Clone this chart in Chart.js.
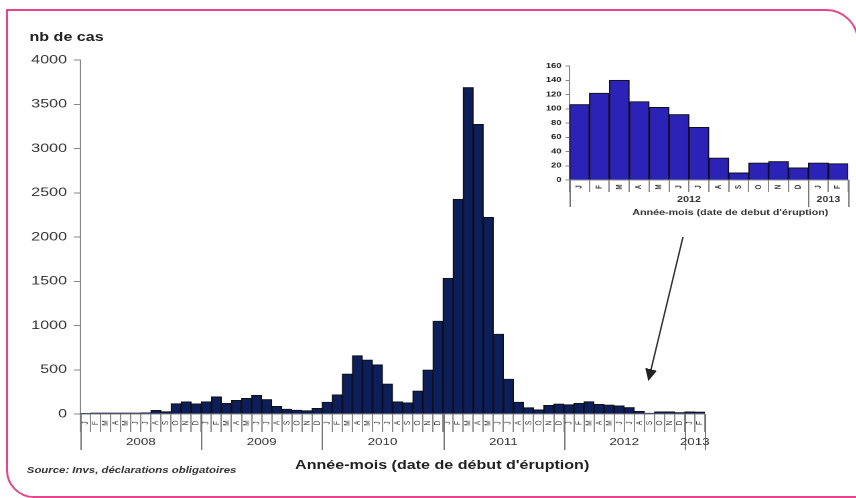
<!DOCTYPE html>
<html>
<head>
<meta charset="utf-8">
<script src="https://cdn.jsdelivr.net/npm/chart.js@4"></script>
<style>
  html, body { margin: 0; padding: 0; background: #fff; overflow: hidden; }
  body { width: 856px; height: 498px; position: relative; font-family: "Liberation Sans", Arial, sans-serif; }
  /* the original picture is stretched horizontally, so the whole chart is too */
  #stage { position: absolute; left: 0; top: 0; width: 639px; height: 498px; transform: scaleX(1.34); transform-origin: 0 0; }
  #main { position: absolute; left: 0; top: 0; }
  #inset { position: absolute; left: 395px; top: 55px; }
  .txt { position: absolute; color: #222; white-space: nowrap; }
  #ylab { left: 22px; top: 30px; font: bold 12px "Liberation Sans", Arial, sans-serif; }
  #xlab { left: 330px; top: 458px; transform: translateX(-50%); font: bold 12px "Liberation Sans", Arial, sans-serif; }
  #src { left: 20px; top: 465px; font: italic bold 8.5px "Liberation Sans", Arial, sans-serif; color: #333; }
  #over { position: absolute; left: 0; top: 0; }
</style>
</head>
<body>
<div id="stage">
  <canvas id="main" width="639" height="498"></canvas>
  <canvas id="inset" width="244" height="170"></canvas>
  <div class="txt" id="ylab">nb de cas</div>
  <div class="txt" id="xlab">Année-mois (date de début d'éruption)</div>
  <div class="txt" id="src">Source: Invs, déclarations obligatoires</div>
</div>
<svg id="over" width="856" height="498">
  <defs>
    <marker id="head" markerWidth="8" markerHeight="8" refX="6" refY="4" orient="auto">
      <path d="M0,0 L8,4 L0,8 z" fill="#222"/>
    </marker>
  </defs>
  <path d="M7,470 L7,10 L826,10 A32,32 0 0 1 858,42 L858,497 L34,497 A27,27 0 0 1 7,470" fill="none" stroke="#e8438c" stroke-width="2"/>
  <line x1="683" y1="237" x2="649" y2="378" stroke="#333" stroke-width="1.5" marker-end="url(#head)"/>
</svg>
<script>
// nombre de cas par mois, janv. 2008 -> fév. 2013
const years = ['2008', '2009', '2010', '2011', '2012', '2013'];
const monthLetters = ['J', 'F', 'M', 'A', 'M', 'J', 'J', 'A', 'S', 'O', 'N', 'D'];
const cases2008 = [8, 12, 12, 12, 12, 12, 14, 42, 27, 118, 137, 115];
const cases2009 = [139, 196, 122, 155, 177, 212, 164, 87, 56, 45, 38, 64];
const cases2010 = [135, 218, 452, 660, 610, 557, 339, 139, 128, 260, 497, 1050];
const cases2011 = [1535, 2427, 3690, 3273, 2223, 903, 395, 135, 73, 48, 98, 113];
const cases2012 = [106, 122, 140, 110, 102, 92, 74, 31, 10, 24, 26, 17];
const cases2013 = [24, 23];
const yTicksMain = [0, 500, 1000, 1500, 2000, 2500, 3000, 3500, 4000];

// zoom: janv. 2012 -> fév. 2013
const insetYears = ['2012', '2013'];
const insetMonths = ['J', 'F', 'M', 'A', 'M', 'J', 'J', 'A', 'S', 'O', 'N', 'D', 'J', 'F'];
const insetCases = [106, 122, 140, 110, 102, 92, 74, 31, 10, 24, 26, 17, 24, 23];
const yTicksInset = [0, 20, 40, 60, 80, 100, 120, 140, 160];

const FONT = '"Liberation Sans", Arial, sans-serif';

const allCases = [].concat(cases2008, cases2009, cases2010, cases2011, cases2012, cases2013);
const yearSizes = [cases2008, cases2009, cases2010, cases2011, cases2012, cases2013].map(a => a.length);
const labels = allCases.map((v, i) => monthLetters[i % 12]);

// lettres des mois + rangée des années, façon axe Excel à deux niveaux
function groupAxisPlugin(opts) {
  return {
    id: 'groupAxis',
    afterDraw(chart) {
      const ctx = chart.ctx;
      const x = chart.scales.x;
      const bottom = chart.chartArea.bottom;
      const half = (x.getPixelForValue(1) - x.getPixelForValue(0)) / 2;
      ctx.save();
      ctx.fillStyle = '#333';
      ctx.font = opts.monthFont;
      ctx.textAlign = 'center';
      ctx.textBaseline = 'middle';
      chart.data.labels.forEach((m, i) => {
        ctx.save();
        ctx.translate(x.getPixelForValue(i), bottom + opts.monthY);
        ctx.rotate(-Math.PI / 2);
        ctx.fillText(m, 0, 0);
        ctx.restore();
      });
      // séparateurs d'années
      ctx.strokeStyle = '#777';
      ctx.lineWidth = 1;
      let start = 0;
      const edges = [0];
      opts.sizes.forEach(n => { start += n; edges.push(start); });
      edges.forEach(e => {
        const px = e < chart.data.labels.length ? x.getPixelForValue(e) - half : x.getPixelForValue(e - 1) + half;
        ctx.beginPath();
        ctx.moveTo(Math.round(px) + 0.5, bottom);
        ctx.lineTo(Math.round(px) + 0.5, bottom + opts.sepLen);
        ctx.stroke();
      });
      ctx.font = opts.yearFont;
      ctx.fillStyle = '#333';
      opts.years.forEach((yr, k) => {
        const a = x.getPixelForValue(edges[k]) - half;
        const b = x.getPixelForValue(edges[k + 1] - 1) + half;
        ctx.fillText(yr, (a + b) / 2, bottom + opts.yearY);
      });
      if (opts.title) {
        ctx.font = opts.titleFont;
        ctx.fillText(opts.title, opts.titleX, bottom + opts.titleY);
      }
      ctx.restore();
    }
  };
}

new Chart(document.getElementById('main').getContext('2d'), {
  type: 'bar',
  data: {
    labels: labels,
    datasets: [{
      data: allCases,
      backgroundColor: '#0c1e5c',
      borderColor: '#111',
      borderWidth: 1,
      barPercentage: 1,
      categoryPercentage: 1
    }]
  },
  options: {
    responsive: false,
    animation: false,
    devicePixelRatio: 2,
    layout: { padding: { left: 0, top: 60, right: 113, bottom: 0 } },
    plugins: { legend: { display: false }, tooltip: { enabled: false } },
    scales: {
      x: {
        type: 'category',
        offset: true,
        grid: { display: true, drawOnChartArea: false, offset: true, tickLength: 18, color: '#888' },
        border: { color: '#888' },
        ticks: { display: false },
        afterFit: s => { s.height = 84; }
      },
      y: {
        min: 0,
        max: 4000,
        afterBuildTicks: s => { s.ticks = yTicksMain.map(v => ({ value: v })); },
        ticks: { font: { family: FONT, size: 12 }, color: '#333', padding: 5, callback: v => String(v) },
        grid: { display: true, drawOnChartArea: false, tickLength: 5, color: '#888' },
        border: { color: '#888' },
        afterFit: s => { s.width = 60; }
      }
    }
  },
  plugins: [groupAxisPlugin({
    sizes: yearSizes, years: years,
    monthFont: '6.5px ' + FONT, monthY: 9,
    sepLen: 36, yearFont: '10px ' + FONT, yearY: 28
  })]
});

new Chart(document.getElementById('inset').getContext('2d'), {
  type: 'bar',
  data: {
    labels: insetMonths,
    datasets: [{
      data: insetCases,
      backgroundColor: '#2b22b8',
      borderColor: '#111',
      borderWidth: 1,
      barPercentage: 1,
      categoryPercentage: 1
    }]
  },
  options: {
    responsive: false,
    animation: false,
    devicePixelRatio: 2,
    layout: { padding: { left: 0, top: 11, right: 6, bottom: 0 } },
    plugins: { legend: { display: false }, tooltip: { enabled: false } },
    scales: {
      x: {
        type: 'category',
        offset: true,
        grid: { display: true, drawOnChartArea: false, offset: true, tickLength: 12, color: '#888' },
        border: { color: '#888' },
        ticks: { display: false },
        afterFit: s => { s.height = 45; }
      },
      y: {
        min: 0,
        max: 160,
        afterBuildTicks: s => { s.ticks = yTicksInset.map(v => ({ value: v })); },
        ticks: { font: { family: FONT, size: 7, weight: 'bold' }, color: '#222', padding: 3, callback: v => String(v) },
        grid: { display: true, drawOnChartArea: false, tickLength: 3, color: '#888' },
        border: { color: '#888' },
        afterFit: s => { s.width = 30; }
      }
    }
  },
  plugins: [groupAxisPlugin({
    sizes: [12, 2], years: insetYears,
    monthFont: 'bold 6px ' + FONT, monthY: 7,
    sepLen: 27, yearFont: 'bold 8px ' + FONT, yearY: 20,
    title: "Année-mois (date de debut d'éruption)", titleFont: 'bold 8px ' + FONT,
    titleX: 150, titleY: 33
  })]
});
</script>
</body>
</html>
